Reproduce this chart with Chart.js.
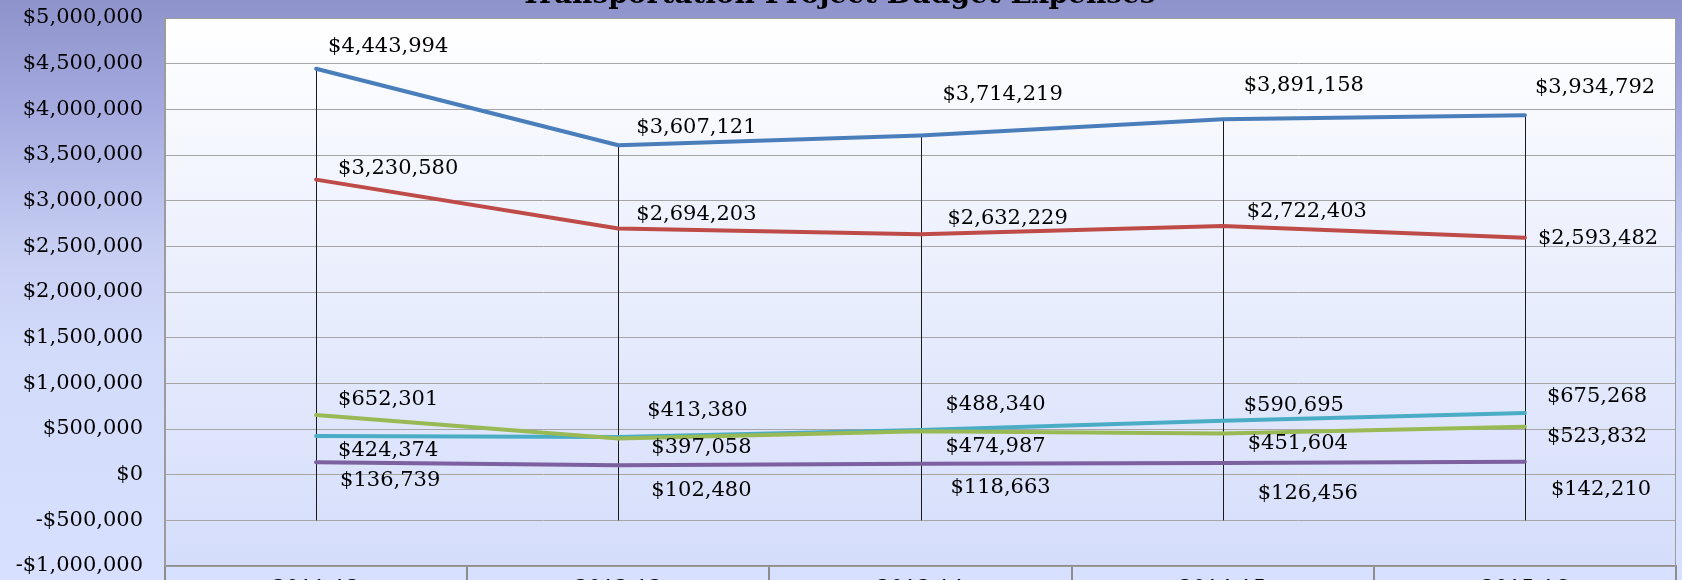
<!DOCTYPE html>
<html>
<head>
<meta charset="utf-8">
<title>Transportation Project Budget Expenses</title>
<script src="https://cdn.jsdelivr.net/npm/chart.js@4.4.1/dist/chart.umd.min.js"></script>
<style>
  html, body { margin: 0; padding: 0; width: 1682px; height: 580px; overflow: hidden; background: #d6dffd; }
  #wrap { position: absolute; left: 0; top: -30px; }
</style>
</head>
<body>
<div id="wrap"><canvas id="budgetChart" width="1682" height="656"></canvas></div>
<script>
// fiscal years
const years = ["2011-12", "2012-13", "2013-14", "2014-15", "2015-16"];

// one array per line
const series1 = [4443994, 3607121, 3714219, 3891158, 3934792];
const series2 = [3230580, 2694203, 2632229, 2722403, 2593482];
const series3 = [652301, 397058, 474987, 451604, 523832];
const series4 = [136739, 102480, 118663, 126456, 142210];
const series5 = [424374, 413380, 488340, 590695, 675268];

// value axis
const yMin = -1000000;
const yMax = 5000000;
const yStep = 500000;
const dropLineBase = -500000;

// where each value label sits relative to its point (px)
const labelOffsets = [
  [[12, -22], [18, -18], [22, -41], [21, -34], [10, -28]],
  [[22, -11], [18, -14], [27, -16], [24, -14], [13, 1]],
  [[22, -16], [33, 9], [25, 15], [25, 10], [22, 10]],
  [[24, 18], [33, 25], [30, 24], [35, 30], [26, 28]],
  [[22, 15], [29, -26], [25, -26], [21, -15], [22, -16]]
];

const serif = "'DejaVu Serif', 'Liberation Serif', serif";
const money = v => (v < 0 ? "-$" : "$") + Math.abs(v).toLocaleString("en-US");

// window offset of the canvas (title mostly above the visible page)
const shiftY = 30;

const backgrounds = {
  id: "backgrounds",
  beforeDraw(chart) {
    const { ctx, width, height, chartArea: a } = chart;
    const g = ctx.createLinearGradient(0, shiftY, 0, shiftY + 580);
    g.addColorStop(0, "#8e93cb");
    g.addColorStop(0.2, "#a6ace0");
    g.addColorStop(0.42, "#c6cdf2");
    g.addColorStop(0.6, "#d3dbfb");
    g.addColorStop(1, "#d7e0fe");
    ctx.save();
    ctx.fillStyle = g;
    ctx.fillRect(0, 0, width, height);
    const p = ctx.createLinearGradient(0, a.top, 0, a.bottom);
    p.addColorStop(0, "#ffffff");
    p.addColorStop(1, "#d4ddfb");
    ctx.fillStyle = p;
    ctx.fillRect(a.left, a.top, a.right - a.left, a.bottom - a.top);
    ctx.restore();
  }
};

// vertical drop lines from the highest point of each year
const dropLines = {
  id: "dropLines",
  beforeDatasetsDraw(chart) {
    const { ctx } = chart;
    const y = chart.scales.y;
    const base = y.getPixelForValue(dropLineBase);
    ctx.save();
    ctx.strokeStyle = "#1a1a1a";
    ctx.lineWidth = 1;
    years.forEach((_, i) => {
      const top = Math.max(...chart.data.datasets.map(d => d.data[i]));
      const x = Math.round(chart.scales.x.getPixelForValue(i)) + 0.5;
      ctx.beginPath();
      ctx.moveTo(x, y.getPixelForValue(top));
      ctx.lineTo(x, base);
      ctx.stroke();
    });
    ctx.restore();
  }
};

const valueLabels = {
  id: "valueLabels",
  afterDatasetsDraw(chart) {
    const { ctx } = chart;
    ctx.save();
    ctx.font = "21px " + serif;
    ctx.fillStyle = "#000";
    ctx.textAlign = "left";
    ctx.textBaseline = "middle";
    chart.data.datasets.forEach((ds, di) => {
      chart.getDatasetMeta(di).data.forEach((pt, i) => {
        const [dx, dy] = labelOffsets[di][i];
        ctx.fillText(money(ds.data[i]), pt.x + dx, pt.y + dy);
      });
    });
    ctx.restore();
  }
};

// boxed category cells under the plot, and the plot frame
const frame = {
  id: "frame",
  afterDraw(chart) {
    const { ctx, height, chartArea: a } = chart;
    const x = chart.scales.x;
    const half = (x.getPixelForValue(1) - x.getPixelForValue(0)) / 2;
    ctx.save();
    ctx.strokeStyle = "#8c8c8c";
    ctx.lineWidth = 2;
    for (let i = 0; i <= years.length; i++) {
      const px = Math.round(x.getPixelForValue(i) - half);
      ctx.beginPath();
      ctx.moveTo(px, a.bottom);
      ctx.lineTo(px, height);
      ctx.stroke();
    }
    ctx.lineWidth = 1;
    ctx.strokeStyle = "#9c9c9c";
    ctx.strokeRect(a.left + 0.5, a.top + 0.5, a.right - a.left - 1, a.bottom - a.top);
    ctx.restore();
  }
};

const line = (data, color) => ({
  data,
  borderColor: color,
  borderWidth: 4,
  borderCapStyle: "round",
  borderJoinStyle: "round",
  pointRadius: 0,
  tension: 0,
  fill: false
});

new Chart(document.getElementById("budgetChart").getContext("2d"), {
  type: "line",
  data: {
    labels: years,
    datasets: [
      line(series1, "#4a7ebb"),
      line(series2, "#be4b48"),
      line(series3, "#98b954"),
      line(series4, "#7d60a0"),
      line(series5, "#4aacc5")
    ]
  },
  options: {
    responsive: false,
    animation: false,
    layout: { padding: { left: 0, right: 6, top: 0, bottom: 0 } },
    plugins: {
      legend: { display: false },
      tooltip: { enabled: false },
      title: {
        display: true,
        text: "Transportation Project Budget Expenses",
        color: "#000",
        font: { family: serif, size: 28, weight: "bold", lineHeight: 1.2 },
        padding: { top: 9, bottom: 5.4 }
      }
    },
    scales: {
      x: {
        offset: true,
        grid: { display: false },
        border: { color: "#8c8c8c", width: 2 },
        ticks: { color: "#000", font: { family: serif, size: 21 }, padding: 2 },
        afterFit(s) { s.height = 60; }
      },
      y: {
        min: yMin,
        max: yMax,
        ticks: {
          stepSize: yStep,
          color: "#000",
          padding: 22,
          font: { family: serif, size: 21 },
          callback: v => money(v)
        },
        grid: { color: "#a6a6a6", lineWidth: 1, drawTicks: false },
        border: { color: "#9c9c9c", width: 2 },
        afterFit(s) { s.width = 165; }
      }
    }
  },
  plugins: [backgrounds, dropLines, valueLabels, frame]
});
</script>
</body>
</html>
